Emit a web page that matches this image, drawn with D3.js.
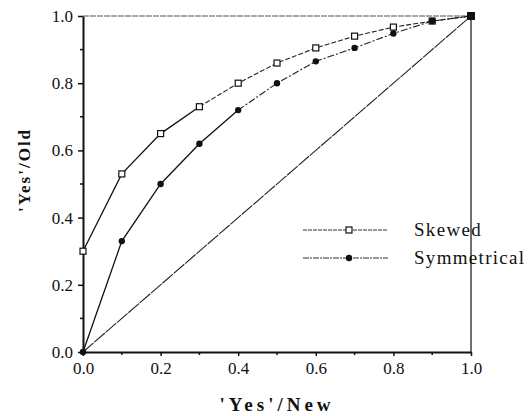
<!DOCTYPE html>
<html>
<head>
    <script src="https://cdn.jsdelivr.net/npm/d3@7"></script>
    <meta charset="utf-8">
    <style>
        body { margin: 0; background: #fff; }
        text { font-family: "Liberation Serif", "DejaVu Serif", serif; fill: #111; }
    </style>
</head>
<body>
    <script>
        // values
        var xVals = [0.0, 0.1, 0.2, 0.3, 0.4, 0.5, 0.6, 0.7, 0.8, 0.9, 1.0];
        var skewed = [0.30, 0.53, 0.65, 0.73, 0.80, 0.86, 0.905, 0.94, 0.967, 0.985, 1.0];
        var symmetrical = [0.0, 0.33, 0.50, 0.62, 0.72, 0.80, 0.865, 0.905, 0.948, 0.985, 1.0];
        var diagonal = [0.0, 1.0];
        var tickLabels = ['0.0', '0.2', '0.4', '0.6', '0.8', '1.0'];
        var seriesNames = ['Skewed', 'Symmetrical'];

        var width = 528, height = 416;
        var plotL = 83, plotR = 471, plotT = 16, plotB = 352;

        var svg = d3.select('body')
            .append('svg')
            .attr('width', width)
            .attr('height', height);

        var x = d3.scaleLinear().domain([0, 1]).range([plotL, plotR]);
        var y = d3.scaleLinear().domain([0, 1]).range([plotB, plotT]);

        var majors = tickLabels.map(Number);
        var minors = [0.1, 0.3, 0.5, 0.7, 0.9];

        // top and right frame
        svg.append('line')
            .attr('x1', x(0)).attr('x2', x(1))
            .attr('y1', y(1)).attr('y2', y(1))
            .attr('stroke', '#555').attr('stroke-width', 1.2)
            .attr('stroke-dasharray', '6,1');
        svg.append('line')
            .attr('x1', x(1)).attr('x2', x(1))
            .attr('y1', y(1)).attr('y2', y(0))
            .attr('stroke', '#222').attr('stroke-width', 1.3);

        // axes
        var xAxis = d3.axisBottom(x).tickValues(majors)
            .tickFormat(function (d, i) { return tickLabels[i]; })
            .tickSize(4).tickPadding(6).tickSizeOuter(0);
        var yAxis = d3.axisLeft(y).tickValues(majors)
            .tickFormat(function (d, i) { return tickLabels[i]; })
            .tickSize(5).tickPadding(5).tickSizeOuter(0);

        var gx = svg.append('g')
            .attr('transform', 'translate(0,' + plotB + ')')
            .call(xAxis);
        var gy = svg.append('g')
            .attr('transform', 'translate(' + plotL + ',0)')
            .call(yAxis);

        [gx, gy].forEach(function (g) {
            g.select('.domain').attr('stroke', '#111').attr('stroke-width', 2);
            g.selectAll('.tick line').attr('stroke', '#111').attr('stroke-width', 1.5);
            g.selectAll('.tick text')
                .style('font-family', '"Liberation Serif", serif')
                .style('font-size', '17px')
                .attr('fill', '#222');
        });

        gx.selectAll('.minor').data(minors).enter().append('line')
            .attr('x1', function (d) { return x(d); })
            .attr('x2', function (d) { return x(d); })
            .attr('y1', 0).attr('y2', 3)
            .attr('stroke', '#111').attr('stroke-width', 1.5);
        gy.selectAll('.minor').data(minors).enter().append('line')
            .attr('y1', function (d) { return y(d); })
            .attr('y2', function (d) { return y(d); })
            .attr('x1', 0).attr('x2', -3)
            .attr('stroke', '#111').attr('stroke-width', 1.5);

        // diagonal
        svg.append('line')
            .attr('x1', x(diagonal[0])).attr('y1', y(diagonal[0]))
            .attr('x2', x(diagonal[1])).attr('y2', y(diagonal[1]))
            .attr('stroke', '#222').attr('stroke-width', 1.1)
            .attr('stroke-dasharray', '14,1');

        var line = d3.line()
            .x(function (d) { return x(d[0]); })
            .y(function (d) { return y(d[1]); });

        var skPts = xVals.map(function (v, i) { return [v, skewed[i]]; });
        var syPts = xVals.map(function (v, i) { return [v, symmetrical[i]]; });

        // solid first part, dashed rest (as in the scan)
        svg.append('path').datum(skPts.slice(0, 4))
            .attr('d', line).attr('fill', 'none')
            .attr('stroke', '#111').attr('stroke-width', 1.3);
        svg.append('path').datum(skPts.slice(3))
            .attr('d', line).attr('fill', 'none')
            .attr('stroke', '#222').attr('stroke-width', 1.1)
            .attr('stroke-dasharray', '5,2');
        svg.append('path').datum(syPts.slice(0, 5))
            .attr('d', line).attr('fill', 'none')
            .attr('stroke', '#111').attr('stroke-width', 1.3);
        svg.append('path').datum(syPts.slice(4))
            .attr('d', line).attr('fill', 'none')
            .attr('stroke', '#222').attr('stroke-width', 1.1)
            .attr('stroke-dasharray', '7,2,2,2');

        svg.selectAll('.sk').data(skPts.slice(0, 10)).enter().append('rect')
            .attr('x', function (d) { return x(d[0]) - 3; })
            .attr('y', function (d) { return y(d[1]) - 3; })
            .attr('width', 6).attr('height', 6)
            .attr('fill', '#fff').attr('stroke', '#111').attr('stroke-width', 1.2);
        svg.selectAll('.sy').data(syPts).enter().append('circle')
            .attr('cx', function (d) { return x(d[0]); })
            .attr('cy', function (d) { return y(d[1]); })
            .attr('r', 3.2)
            .attr('fill', '#111');
        // corner point
        svg.append('rect')
            .attr('x', x(1) - 4).attr('y', y(1) - 4)
            .attr('width', 8).attr('height', 8).attr('fill', '#111');

        // legend
        var legY = [230, 258];
        var leg = svg.selectAll('.leg').data(seriesNames).enter().append('g')
            .attr('transform', function (d, i) { return 'translate(0,' + legY[i] + ')'; });
        leg.append('line')
            .attr('x1', 303).attr('x2', 388).attr('y1', 0).attr('y2', 0)
            .attr('stroke', '#333').attr('stroke-width', 1)
            .attr('stroke-dasharray', function (d, i) { return i === 0 ? '4,1' : '6,1,2,1'; });
        leg.filter(function (d, i) { return i === 0; }).append('rect')
            .attr('x', 346).attr('y', -3).attr('width', 6).attr('height', 6)
            .attr('fill', '#fff').attr('stroke', '#111').attr('stroke-width', 1.2);
        leg.filter(function (d, i) { return i === 1; }).append('circle')
            .attr('cx', 349).attr('cy', 0).attr('r', 3.2).attr('fill', '#111');
        leg.append('text')
            .attr('x', 414).attr('y', 6)
            .style('font-size', '19px')
            .style('letter-spacing', '1.3px')
            .text(function (d) { return d; });

        // axis titles
        svg.append('text')
            .attr('x', (plotL + plotR) / 2).attr('y', 411)
            .attr('text-anchor', 'middle')
            .style('font-size', '19px').style('font-weight', 'bold')
            .style('letter-spacing', '4px')
            .text("'Yes'/New");
        svg.append('text')
            .attr('transform', 'translate(30,170) rotate(-90)')
            .attr('text-anchor', 'middle')
            .style('font-size', '17px').style('font-weight', 'bold')
            .style('letter-spacing', '2px')
            .text("'Yes'/Old");
    </script>
</body>
</html>
